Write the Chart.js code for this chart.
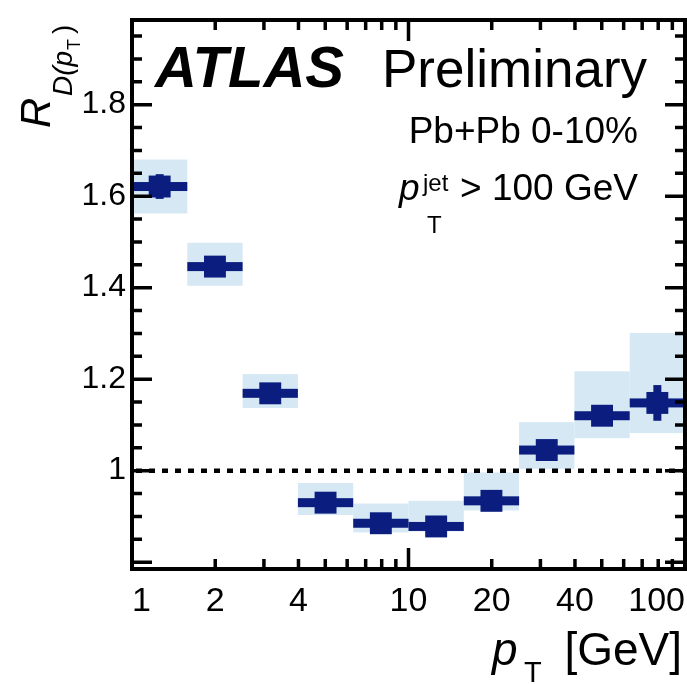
<!DOCTYPE html>
<html>
<head>
<meta charset="utf-8">
<script src="https://cdn.jsdelivr.net/npm/chart.js@4.4.4/dist/chart.umd.min.js"></script>
<style>
  html, body { margin: 0; padding: 0; background: #fff; }
  #wrap { width: 687px; height: 684px; position: relative; }
</style>
</head>
<body>
<div id="wrap"><canvas id="chart"></canvas></div>
<script>
// ── Data ───────────────────────────────────────────────────────────────────
const BIN_LO    = [1, 1.585, 2.512, 3.981, 6.31, 10, 15.85, 25.12, 39.81, 63.1];
const BIN_HI    = [1.585, 2.512, 3.981, 6.31, 10, 15.85, 25.12, 39.81, 63.1, 100];
const PT_CENTER = [1.259, 1.995, 3.162, 5.012, 7.943, 12.59, 19.95, 31.62, 50.12, 79.43];
const R_VALUE   = [1.621, 1.446, 1.169, 0.930, 0.885, 0.878, 0.934, 1.045, 1.120, 1.148];
const STAT_ERR  = [0.027, 0.022, 0.020, 0.020, 0.020, 0.022, 0.020, 0.020, 0.022, 0.039];
const SYST_LO   = [1.562, 1.404, 1.137, 0.903, 0.865, 0.867, 0.913, 1.004, 1.071, 1.082];
const SYST_HI   = [1.680, 1.498, 1.211, 0.973, 0.928, 0.934, 0.996, 1.106, 1.217, 1.301];

const X_TICKS  = [1, 2, 4, 10, 20, 40, 100];
const Y_TICKS  = [1, 1.2, 1.4, 1.6, 1.8];
const X_MINOR  = [2, 3, 4, 5, 6, 7, 8, 9, 20, 30, 40, 50, 60, 70, 80, 90];
const X_MAJOR  = [10];

const NAVY  = '#0b1e80';
const SYSTC = '#d5e8f4';
const FONT  = '"Liberation Sans", Arial, Helvetica, sans-serif';

// ── Helpers ────────────────────────────────────────────────────────────────

function txt(ctx, s, x, y, size, style = '', align = 'left') {
  ctx.font = `${style} ${size}px ${FONT}`;
  ctx.textAlign = align;
  ctx.textBaseline = 'alphabetic';
  ctx.fillText(s, x, y);
  return ctx.measureText(s).width;
}

// boxes, bin-width bars, stat bars drawn below the markers
const errorPlugin = {
  id: 'errors',
  beforeDatasetsDraw(chart) {
    const { ctx, chartArea: a, scales: { x, y } } = chart;
    ctx.save();
    ctx.beginPath();
    ctx.rect(a.left, a.top, a.right - a.left, a.bottom - a.top);
    ctx.clip();

    ctx.fillStyle = SYSTC;
    BIN_LO.forEach((lo, i) => {
      const x0 = x.getPixelForValue(lo), x1 = x.getPixelForValue(BIN_HI[i]);
      const y0 = y.getPixelForValue(SYST_HI[i]), y1 = y.getPixelForValue(SYST_LO[i]);
      ctx.fillRect(x0, y0, x1 - x0, y1 - y0);
    });

    // dotted unity line
    ctx.strokeStyle = '#000';
    ctx.lineWidth = 4.5;
    ctx.setLineDash([6, 7]);
    const y1 = y.getPixelForValue(1);
    ctx.beginPath();
    ctx.moveTo(a.left + 4, y1);
    ctx.lineTo(a.right, y1);
    ctx.stroke();
    ctx.setLineDash([]);

    ctx.fillStyle = NAVY;
    BIN_LO.forEach((lo, i) => {
      const x0 = x.getPixelForValue(lo), x1 = x.getPixelForValue(BIN_HI[i]);
      const yc = y.getPixelForValue(R_VALUE[i]);
      ctx.fillRect(x0, yc - 4.5, x1 - x0, 9);
      const xc = x.getPixelForValue(PT_CENTER[i]);
      const ys0 = y.getPixelForValue(R_VALUE[i] + STAT_ERR[i]);
      const ys1 = y.getPixelForValue(R_VALUE[i] - STAT_ERR[i]);
      ctx.fillRect(xc - 4, ys0, 8, ys1 - ys0);
    });
    ctx.restore();
  },
  afterDraw(chart) {
    const { ctx, chartArea: a, scales: { x, y } } = chart;
    ctx.save();
    ctx.strokeStyle = '#000';
    ctx.fillStyle = '#000';

    // inward ticks on all four sides
    ctx.lineWidth = 3.5;
    ctx.beginPath();
    const xt = (v, len) => {
      const px = x.getPixelForValue(v);
      ctx.moveTo(px, a.bottom); ctx.lineTo(px, a.bottom - len);
      ctx.moveTo(px, a.top);    ctx.lineTo(px, a.top + len);
    };
    X_MINOR.forEach(v => xt(v, 10));
    X_MAJOR.forEach(v => xt(v, 21));
    for (let k = 16; k <= 39; k++) {
      const v = k * 0.05;
      const len = (k % 4 === 0) ? 20 : 10;
      const py = y.getPixelForValue(v);
      ctx.moveTo(a.left, py);  ctx.lineTo(a.left + len, py);
      ctx.moveTo(a.right, py); ctx.lineTo(a.right - len, py);
    }
    ctx.stroke();

    // frame
    ctx.lineWidth = 4;
    ctx.strokeRect(a.left, a.top, a.right - a.left, a.bottom - a.top);

    // labels
    txt(ctx, 'ATLAS', 155, 87, 58, 'italic bold');
    txt(ctx, 'Preliminary', 382, 87, 53);
    txt(ctx, 'Pb+Pb 0-10%', 638, 143, 37, '', 'right');
    txt(ctx, '> 100 GeV', 638, 200, 37, '', 'right');
    txt(ctx, 'p', 399, 200, 37, 'italic');
    txt(ctx, 'jet', 423, 191, 24);
    txt(ctx, 'T', 427, 233, 24);

    // x title
    txt(ctx, 'p', 492, 665, 46, 'italic');
    txt(ctx, 'T', 524, 682, 29);
    txt(ctx, '[GeV]', 682, 665, 46, '', 'right');

    // y title (rotated)
    ctx.save();
    ctx.translate(50, 128);
    ctx.rotate(-Math.PI / 2);
    txt(ctx, 'R', 0, 0, 42, 'italic');
    ctx.restore();
    ctx.save();
    ctx.translate(72, 96);
    ctx.rotate(-Math.PI / 2);
    let u = txt(ctx, 'D(', 0, 0, 28, 'italic');
    u += txt(ctx, 'p', u, 0, 28, 'italic');
    txt(ctx, 'T', u + 1, 8, 18);
    txt(ctx, ')', u + 17, 0, 28);
    ctx.restore();

    ctx.restore();
  }
};

new Chart(document.getElementById('chart'), {
  type: 'scatter',
  data: {
    datasets: [{
      data: PT_CENTER.map((v, i) => ({ x: v, y: R_VALUE[i] })),
      pointStyle: 'rect',
      pointRadius: 15.5,
      pointHoverRadius: 15.5,
      backgroundColor: NAVY,
      borderWidth: 0,
    }],
  },
  options: {
    responsive: true,
    maintainAspectRatio: false,
    animation: false,
    // big square markers would otherwise make Chart.js shrink the plot area
    layout: { autoPadding: false, padding: { top: 20, right: 2, left: 0, bottom: 0 } },
    plugins: { legend: { display: false }, tooltip: { enabled: false } },
    scales: {
      x: {
        type: 'logarithmic',
        min: 1,
        max: 100,
        afterBuildTicks: s => { s.ticks = X_TICKS.map(v => ({ value: v })); },
        afterFit: s => { s.height = 115; },
        // invisible tick length pushes the labels down without adding side padding
        grid: { display: false, drawTicks: true, tickLength: 12 },
        border: { display: false },
        ticks: {
          autoSkip: false,
          maxRotation: 0,
          align: 'inner',
          padding: 0,
          color: '#000',
          font: { family: FONT, size: 34 },
          callback: v => String(v),
        },
      },
      y: {
        min: 0.785,
        max: 1.985,
        afterBuildTicks: s => { s.ticks = Y_TICKS.map(v => ({ value: v })); },
        afterFit: s => { s.width = 132; },
        grid: { display: false, drawTicks: true, tickLength: 6 },
        border: { display: false },
        ticks: {
          padding: 0,
          color: '#000',
          font: { family: FONT, size: 32 },
          callback: v => (v === 1 ? '1' : v.toFixed(1)),
        },
      },
    },
  },
  plugins: [errorPlugin],
});
</script>
</body>
</html>
